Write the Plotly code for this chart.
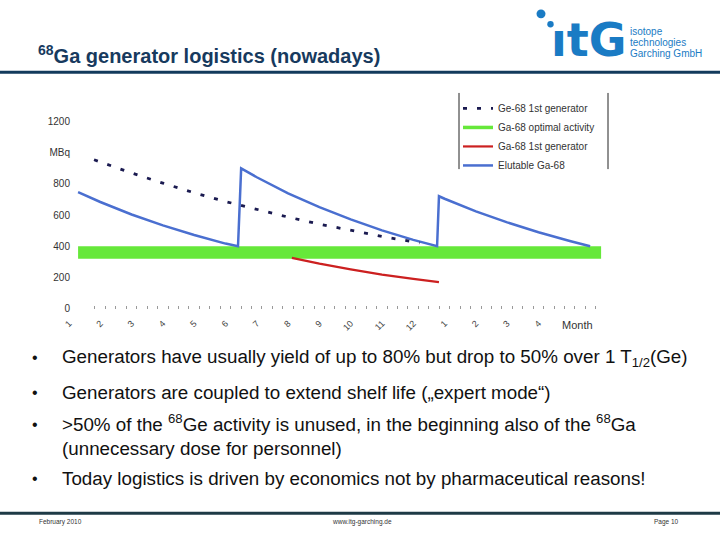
import plotly.graph_objects as go

W, H = 720, 540

# ---------------- data (months on a continuous axis; tick k = month label k) ----------------
month_ticks = list(range(1, 17))
month_labels = ["1", "2", "3", "4", "5", "6", "7", "8", "9", "10", "11", "12", "1", "2", "3", "4"]

ge68_x = [1.8, 3.0, 4.0, 5.0, 6.0, 7.0, 8.0, 9.0, 10.0, 11.0, 12.2]
ge68_y = [955, 870, 805, 743, 687, 635, 587, 542, 501, 463, 421]

elut_x = [1.29, 2.0, 3.0, 4.0, 5.0, 6.0, 6.4, 6.5, 7.0, 8.0, 9.0, 10.0, 11.0, 12.0, 12.76,
          12.82, 13.0, 14.0, 15.0, 16.0, 17.0, 17.65]
elut_y = [747, 684, 604, 534, 472, 417, 400, 900, 843, 740, 651, 572, 502, 441, 400,
          721, 705, 624, 553, 490, 434, 400]

ga1_x = [8.12, 9.0, 10.0, 11.0, 12.0, 12.82]
ga1_y = [325, 288, 251, 218, 190, 170]

opt_x = [1.29, 18.0]
opt_top = [400, 400]
opt_bottom = [320, 320]

y_ticks = [0, 200, 400, 600, 800, 1000, 1200]
y_labels = ["0", "200", "400", "600", "800", "MBq", "1200"]

# small tick marks along the time axis (every third of a month)
minor_ticks = [1.83 + k / 3 for k in range(49)]

# ---------------- geometry helpers ----------------
def px(x):
    return x / W

def py(y):
    return 1 - y / H

PX_PER_MONTH = 31.3
X_LEFT, X_RIGHT = 50, 610
x_range = [1 + (X_LEFT - 69) / PX_PER_MONTH, 1 + (X_RIGHT - 69) / PX_PER_MONTH]
Y0_PIX = 312
PX_PER_UNIT = 189 / 1200
Y_MAX = 1300
y_top_pix = Y0_PIX - Y_MAX * PX_PER_UNIT

BLUE = "#4a6fd0"
GREEN = "#66e83a"
RED = "#cc2020"
NAVY = "#1a1a50"

fig = go.Figure()

# green optimal activity band
fig.add_trace(go.Scatter(x=opt_x, y=opt_bottom, mode="lines", line=dict(color=GREEN, width=0),
                         showlegend=False, hoverinfo="skip"))
fig.add_trace(go.Scatter(x=opt_x, y=opt_top, mode="lines", line=dict(color=GREEN, width=0),
                         fill="tonexty", fillcolor=GREEN, showlegend=False, hoverinfo="skip"))

fig.add_trace(go.Scatter(x=ga1_x, y=ga1_y, mode="lines", line=dict(color=RED, width=2.2),
                         name="Ga-68 1st generator", legendrank=3))
fig.add_trace(go.Scatter(x=elut_x, y=elut_y, mode="lines", line=dict(color=BLUE, width=2.5),
                         name="Elutable Ga-68", legendrank=4))
fig.add_trace(go.Scatter(x=ge68_x, y=ge68_y, mode="lines",
                         line=dict(color=NAVY, width=2.8, dash="4px,10px"),
                         name="Ge-68 1st generator", legendrank=1))
# legend entry for the green band
fig.add_trace(go.Scatter(x=[None], y=[None], mode="lines", line=dict(color=GREEN, width=3.5),
                         name="Ga-68 optimal activity", legendrank=2))

shapes = []
# header and footer rules
shapes.append(dict(type="line", xref="paper", yref="paper", x0=0, x1=1, y0=py(73), y1=py(73),
                   line=dict(color="#123a5c", width=3)))
shapes.append(dict(type="line", xref="paper", yref="paper", x0=0, x1=1, y0=py(519), y1=py(519),
                   line=dict(color="#1e3a46", width=3)))
# legend box side lines
for lx in (459, 608):
    shapes.append(dict(type="line", xref="paper", yref="paper", x0=px(lx), x1=px(lx),
                       y0=py(94), y1=py(171), line=dict(color="#222222", width=1)))
# logo dots
for cx, cy, r in ((541, 14, 4.5), (550.5, 24.5, 3.2)):
    shapes.append(dict(type="circle", xref="paper", yref="paper",
                       x0=px(cx - r), x1=px(cx + r), y0=py(cy + r), y1=py(cy - r),
                       fillcolor="#1a7bc4", line=dict(width=0)))

ann = []
FONT = "Liberation Sans, Arial, sans-serif"
# title
ann.append(dict(text="<b><sup>68</sup>Ga generator logistics (nowadays)</b>", x=px(36), y=py(55),
                xref="paper", yref="paper", xanchor="left", yanchor="middle", showarrow=False,
                font=dict(family=FONT, size=20, color="#173a5e")))
# logo
ann.append(dict(text="<b>ıtG</b>", x=px(549), y=py(40), xref="paper", yref="paper",
                xanchor="left", yanchor="middle", showarrow=False,
                font=dict(family="DejaVu Sans, sans-serif", size=46, color="#1a7bc4")))
for txt, yy in (("isotope", 31.5), ("technologies", 43), ("Garching GmbH", 54.5)):
    ann.append(dict(text=txt, x=px(628), y=py(yy), xref="paper", yref="paper",
                    xanchor="left", yanchor="middle", showarrow=False,
                    font=dict(family=FONT, size=10, color="#1a7bc4")))
# Month label
ann.append(dict(text="Month", x=px(577), y=py(329), xref="paper", yref="paper",
                xanchor="center", yanchor="middle", showarrow=False,
                font=dict(family=FONT, size=11, color="#333333")))
# bullets
bullets = [
    (362, "Generators have usually yield of up to 80% but drop to 50% over 1 T<sub>1/2</sub>(Ge)"),
    (397, "Generators are coupled to extend shelf life („expert mode“)"),
    (440, ">50% of the <sup>68</sup>Ge activity is unused, in the beginning also of the <sup>68</sup>Ga<br>(unnecessary dose for personnel)"),
    (484, "Today logistics is driven by economics not by pharmaceutical reasons!"),
]
bullet_dot_y = [362, 397, 429, 484]
for (yy, txt), by in zip(bullets, bullet_dot_y):
    ann.append(dict(text="•", x=px(35), y=py(by), xref="paper", yref="paper", xanchor="center",
                    yanchor="middle", showarrow=False, font=dict(family=FONT, size=16, color="#111111")))
    ann.append(dict(text=txt, x=px(60), y=py(yy), xref="paper", yref="paper", xanchor="left",
                    yanchor="middle", align="left", showarrow=False,
                    font=dict(family=FONT, size=18.8, color="#111111")))
# footer
for txt, xx, anchor in (("February 2010", 37, "left"), ("www.itg-garching.de", 362, "center"),
                        ("Page 10", 652, "left")):
    ann.append(dict(text=txt, x=px(xx), y=py(528), xref="paper", yref="paper", xanchor=anchor,
                    yanchor="middle", showarrow=False, font=dict(family=FONT, size=6.5, color="#333333")))

fig.update_layout(
    width=W, height=H, autosize=False,
    margin=dict(l=0, r=0, t=0, b=0),
    paper_bgcolor="white", plot_bgcolor="rgba(0,0,0,0)",
    font=dict(family=FONT, color="#333333"),
    shapes=shapes, annotations=ann,
    legend=dict(x=px(458), y=py(95), xanchor="left", yanchor="top", bgcolor="rgba(0,0,0,0)",
                borderwidth=0, font=dict(family=FONT, size=10, color="#333333"),
                itemwidth=30, tracegroupgap=0, traceorder="normal"),
    xaxis=dict(domain=[px(X_LEFT), px(X_RIGHT)], range=x_range, showgrid=False, zeroline=False,
               showline=False, tickmode="array", tickvals=month_ticks, ticktext=month_labels,
               tickangle=-45, tickfont=dict(family=FONT, size=9, color="#444444"), ticks="",
               ticklabelstandoff=7,
               minor=dict(ticks="inside", ticklen=3, tickmode="array", tickvals=minor_ticks,
                          tickcolor="#9a9a9a", tickwidth=1, showgrid=False)),
    yaxis=dict(domain=[py(Y0_PIX), py(y_top_pix)], range=[0, Y_MAX], showgrid=False,
               anchor="free", position=px(70),
               zeroline=False, showline=False, tickmode="array", tickvals=y_ticks,
               ticktext=y_labels, tickfont=dict(family=FONT, size=10, color="#333333"), ticks=""),
)

fig.write_html("out.html", post_script="document.body.style.margin='0px';",
               config={"displayModeBar": False})
